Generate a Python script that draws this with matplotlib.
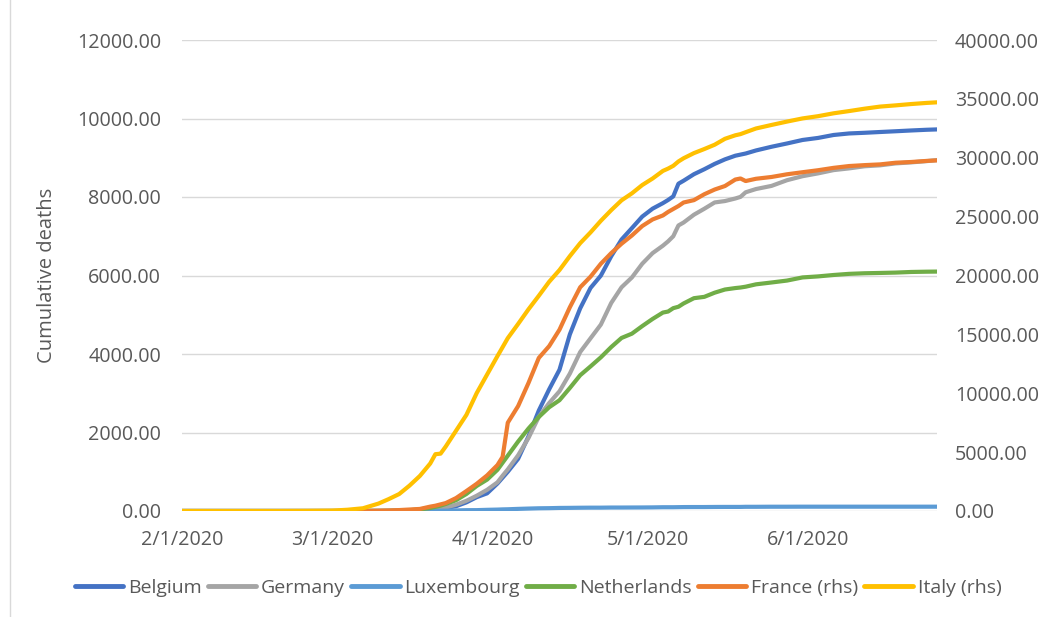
import matplotlib
matplotlib.use("Agg")
import matplotlib.pyplot as plt
import matplotlib.dates as mdates
import matplotlib.ticker as mticker
from matplotlib.lines import Line2D
import pandas as pd

# cumulative deaths per country (France and Italy on the right-hand scale)
dates = [
    "2020-02-01", "2020-02-10", "2020-02-20", "2020-02-25",
    "2020-03-01", "2020-03-04", "2020-03-07", "2020-03-10", "2020-03-12", "2020-03-14",
    "2020-03-16", "2020-03-18", "2020-03-20", "2020-03-21", "2020-03-22", "2020-03-23",
    "2020-03-25", "2020-03-27", "2020-03-29", "2020-03-31",
    "2020-04-02", "2020-04-03", "2020-04-04", "2020-04-06", "2020-04-08", "2020-04-10",
    "2020-04-12", "2020-04-14", "2020-04-16", "2020-04-18", "2020-04-20", "2020-04-22",
    "2020-04-24", "2020-04-26", "2020-04-28", "2020-04-30",
    "2020-05-02", "2020-05-04", "2020-05-05", "2020-05-06", "2020-05-07", "2020-05-08",
    "2020-05-10", "2020-05-12", "2020-05-14", "2020-05-16", "2020-05-18", "2020-05-19",
    "2020-05-20", "2020-05-22", "2020-05-25", "2020-05-28", "2020-05-31",
    "2020-06-03", "2020-06-06", "2020-06-09", "2020-06-12", "2020-06-15", "2020-06-18",
    "2020-06-21", "2020-06-24", "2020-06-26",
]

belgium = [
    0, 0, 0, 0,
    0, 0, 0, 0, 3, 4, 10, 14, 21, 37, 67, 75, 122, 220, 353, 450,
    700, 850, 1000, 1330, 1900, 2560, 3100, 3600, 4500, 5163, 5683, 5998, 6490, 6917, 7207, 7501,
    7703, 7844, 7924, 8016, 8339, 8415, 8581, 8707, 8843, 8959, 9052, 9080, 9108, 9186, 9280, 9364, 9453,
    9505, 9580, 9619, 9636, 9656, 9675, 9695, 9713, 9722,
]
germany = [
    0, 0, 0, 0,
    0, 0, 0, 2, 3, 8, 13, 20, 40, 55, 70, 90, 160, 260, 390, 540,
    730, 900, 1060, 1420, 1860, 2400, 2750, 3050, 3500, 4050, 4400, 4750, 5300, 5700, 5950, 6300,
    6570, 6760, 6870, 7000, 7275, 7350, 7549, 7700, 7861, 7897, 7962, 8003, 8120, 8203, 8283, 8428, 8530,
    8602, 8685, 8729, 8783, 8807, 8856, 8882, 8914, 8940,
]
luxembourg = [
    0, 0, 0, 0,
    0, 0, 0, 0, 0, 1, 1, 4, 8, 8, 8, 8, 15, 21, 22, 30,
    36, 41, 44, 54, 62, 69, 72, 78, 80, 83, 85, 85, 88, 88, 89, 90,
    92, 96, 96, 96, 98, 100, 101, 101, 103, 104, 104, 104, 107, 107, 109, 109, 110,
    110, 110, 110, 110, 110, 110, 110, 110, 110,
]
netherlands = [
    0, 0, 0, 0,
    0, 0, 1, 3, 4, 10, 20, 43, 76, 106, 136, 179, 276, 434, 639, 800,
    1050, 1230, 1410, 1770, 2101, 2396, 2643, 2823, 3134, 3459, 3684, 3916, 4177, 4409, 4518, 4711,
    4893, 5056, 5082, 5168, 5204, 5288, 5422, 5456, 5562, 5643, 5680, 5694, 5715, 5775, 5822, 5871, 5951,
    5977, 6013, 6042, 6057, 6065, 6074, 6090, 6097, 6100,
]
france = [
    0, 0, 1, 2,
    2, 4, 9, 30, 48, 79, 127, 175, 372, 450, 562, 674, 1100, 1696, 2314, 3024,
    3900, 4600, 7500, 8911, 10869, 13000, 14000, 15400, 17300, 19000, 19900, 21000, 21900, 22700, 23400, 24200,
    24760, 25100, 25400, 25650, 25900, 26200, 26400, 26900, 27300, 27600, 28150, 28239, 28022, 28215, 28367, 28596, 28771,
    28940, 29142, 29296, 29374, 29436, 29578, 29640, 29731, 29778,
]
italy = [
    0, 0, 0, 10,
    34, 107, 233, 631, 1016, 1441, 2158, 2978, 4032, 4825, 4870, 5476, 6820, 8165, 10023, 11591,
    13155, 13915, 14681, 15887, 17127, 18279, 19468, 20465, 21645, 22745, 23660, 24648, 25549, 26384, 26977, 27682,
    28236, 28884, 29079, 29315, 29684, 29958, 30395, 30739, 31106, 31610, 31908, 32007, 32169, 32486, 32785, 33072, 33340,
    33530, 33774, 33964, 34167, 34345, 34448, 34561, 34657, 34708,
]

left_series = [
    ("Belgium", belgium, "#4472C4"),
    ("Germany", germany, "#A5A5A5"),
    ("Luxembourg", luxembourg, "#5B9BD5"),
    ("Netherlands", netherlands, "#70AD47"),
]
right_series = [
    ("France (rhs)", france, "#ED7D31"),
    ("Italy (rhs)", italy, "#FFC000"),
]

plt.rcParams["font.family"] = ["Open Sans", "DejaVu Sans"]
text_color = "#595959"
grid_color = "#D9D9D9"

x = pd.to_datetime(dates)

fig = plt.figure(figsize=(10.43, 6.17), dpi=100)
ax = fig.add_axes([182 / 1043, 1 - 511 / 617, (937 - 182) / 1043, (511 - 40) / 617])
ax2 = ax.twinx()

line_kw = dict(linewidth=3.0, solid_capstyle="round", solid_joinstyle="round")
for name, vals, col in left_series:
    ax.plot(x, vals, color=col, label=name, zorder=3, **line_kw)
for name, vals, col in right_series:
    ax2.plot(x, vals, color=col, label=name, zorder=3, **line_kw)

ax.set_xlim(x[0], x[-1])
ax.set_ylim(0, 12000)
ax2.set_ylim(0, 40000)
ax.set_yticks(range(0, 12001, 2000))
ax2.set_yticks(range(0, 40001, 5000))
ax.yaxis.set_major_formatter(mticker.StrMethodFormatter("{x:.2f}"))
ax2.yaxis.set_major_formatter(mticker.StrMethodFormatter("{x:.2f}"))


def us_date(v, pos):
    d = mdates.num2date(v)
    return f"{d.month}/{d.day}/{d.year}"


ax.xaxis.set_major_locator(mdates.MonthLocator())
ax.xaxis.set_major_formatter(mticker.FuncFormatter(us_date))

ax.grid(axis="y", color=grid_color, linewidth=1.0, zorder=0)
ax.set_axisbelow(True)
for a in (ax, ax2):
    for sp in a.spines.values():
        sp.set_visible(False)
    a.tick_params(length=0, labelsize=14.2, labelcolor=text_color)
ax.tick_params(axis="y", pad=15)
ax2.tick_params(axis="y", pad=13)
ax.tick_params(axis="x", pad=14)

ax.set_ylabel("Cumulative deaths", fontsize=14.5, color=text_color)
ax.yaxis.set_label_coords((57 - 182) / 755, 0.5)

handles = [Line2D([0], [0], color=c, linewidth=3.5, solid_capstyle="round")
           for _, _, c in left_series + right_series]
labels = [n for n, _, _ in left_series + right_series]
fig.legend(handles, labels, loc="center", bbox_to_anchor=(538 / 1043, 1 - 588 / 617),
           ncol=6, frameon=False, fontsize=14, handlelength=2.5, handletextpad=0.25,
           columnspacing=0.3, labelcolor=text_color)

# outer chart border on the left
fig.add_artist(Line2D([10 / 1043, 10 / 1043], [0, 1], color=grid_color, linewidth=1.0,
                      transform=fig.transFigure))

fig.savefig("out.png", dpi=100)
